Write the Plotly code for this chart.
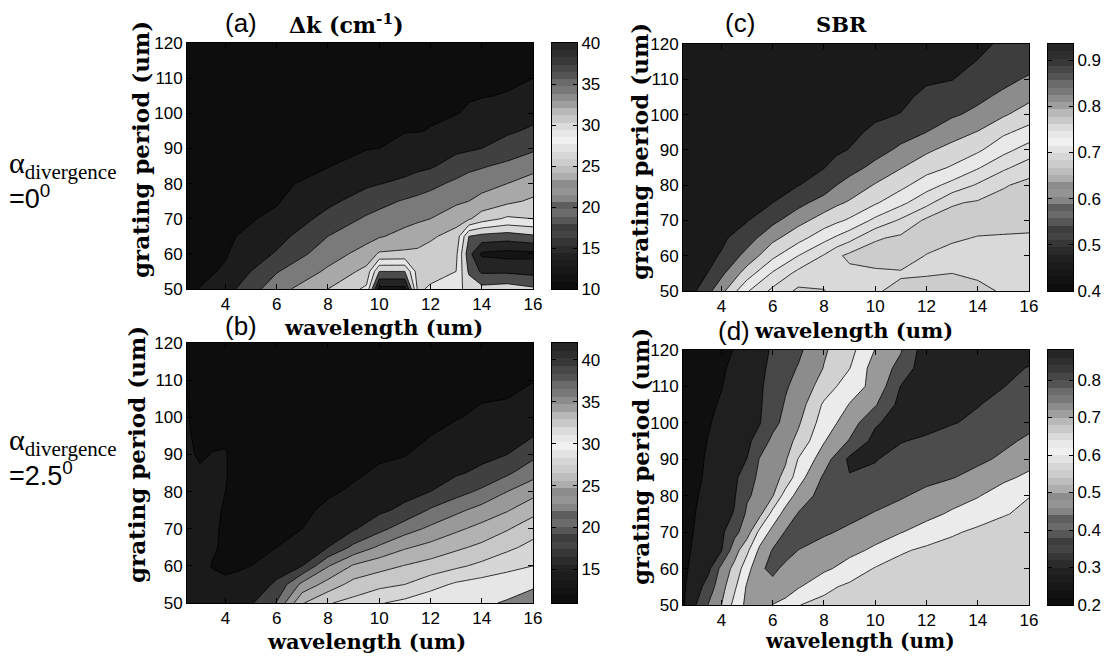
import plotly.graph_objects as go

# screen is 1109x661; the page body has an 8px margin, so the figure is drawn
# 16px smaller and every screen position is shifted by that margin.
SCREEN_W, SCREEN_H = 1109, 661
OFF = 8
W, H = SCREEN_W - 2 * OFF, SCREEN_H - 2 * OFF

# ---------------- data ----------------
Y_PERIOD = [50, 55, 60, 65, 70, 75, 80, 85, 90, 95, 100, 105, 110, 115, 120]

# (a) delta-k, alpha = 0 deg ; one list per wavelength column (values along Y_PERIOD)
X_A = [2.5, 4, 6, 8, 9.5, 10, 11, 11.5, 12, 13, 13.5, 14, 15, 16]
A_COLS = [
    [11.3, 11.0, 10.7, 10.4, 10.2, 10.1, 10.0, 10.0, 10.0, 10.0, 10.0, 10.0, 10.0, 10.0, 10.0],
    [13.8, 12.3, 11.8, 11.5, 11.2, 10.9, 10.6, 10.3, 10.1, 10.0, 10.0, 10.0, 10.0, 10.0, 10.0],
    [19.8, 17.8, 15.3, 13.9, 12.5, 11.8, 11.5, 11.2, 10.9, 10.6, 10.3, 10.1, 10.0, 10.0, 10.0],
    [24.0, 21.5, 19.7, 18.0, 16.0, 14.3, 12.9, 11.9, 11.6, 11.3, 11.0, 10.7, 10.4, 10.2, 10.0],
    [27.6, 24.9, 22.1, 20.1, 18.4, 16.4, 14.5, 13.0, 11.9, 11.6, 11.3, 11.0, 10.7, 10.4, 10.2],
    [40.0, 33.0, 24.4, 20.7, 19.0, 17.1, 14.9, 13.4, 12.0, 11.7, 11.4, 11.1, 10.8, 10.5, 10.3],
    [40.0, 33.0, 24.6, 22.0, 20.0, 18.3, 15.6, 14.0, 12.7, 11.9, 11.6, 11.3, 11.0, 10.7, 10.4],
    [26.5, 25.6, 24.6, 22.7, 20.5, 18.8, 16.4, 14.3, 13.1, 11.9, 11.6, 11.3, 11.0, 10.7, 10.5],
    [27.4, 26.0, 25.0, 23.6, 21.0, 19.2, 17.2, 14.6, 13.4, 12.1, 11.7, 11.4, 11.1, 10.8, 10.5],
    [29.0, 27.0, 26.3, 25.0, 23.0, 20.4, 18.6, 16.4, 14.3, 13.1, 11.9, 11.6, 11.3, 11.0, 10.7],
    [31.0, 33.5, 35.0, 33.0, 23.6, 21.0, 19.6, 17.1, 14.6, 13.5, 12.3, 11.8, 11.5, 11.2, 10.9],
    [32.0, 36.5, 39.5, 34.0, 25.5, 22.0, 19.8, 17.7, 15.0, 13.8, 12.7, 11.9, 11.6, 11.3, 11.0],
    [31.5, 36.5, 40.0, 34.5, 27.5, 23.3, 21.0, 18.7, 16.2, 14.6, 13.3, 12.1, 11.7, 11.4, 11.1],
    [32.5, 37.0, 39.8, 33.5, 27.0, 24.5, 22.3, 20.0, 17.5, 15.4, 14.2, 13.1, 12.0, 11.7, 11.4],
]

# (b) delta-k, alpha = 2.5 deg
X_B = [2.5, 3, 3.5, 4, 4.5, 5, 6, 7, 8, 9, 10, 11, 12, 13, 14, 15, 16]
B_COLS = [
    [14.0, 14.0, 13.8, 13.6, 13.5, 13.4, 13.4, 13.3, 13.3, 13.2, 13.1, 13.05, 12.8, 12.5, 12.3],
    [14.2, 14.0, 13.6, 13.5, 13.4, 13.3, 13.3, 13.2, 12.8, 12.6, 12.5, 12.4, 12.3, 12.2, 12.1],
    [14.3, 13.5, 12.9, 13.2, 13.2, 13.2, 13.2, 13.2, 13.05, 12.7, 12.5, 12.4, 12.3, 12.2, 12.1],
    [14.5, 13.2, 12.8, 12.7, 12.8, 12.9, 13.0, 13.15, 13.1, 12.8, 12.6, 12.5, 12.4, 12.3, 12.2],
    [14.8, 13.5, 12.8, 12.6, 12.5, 12.4, 12.3, 12.2, 12.2, 12.1, 12.1, 12.0, 12.0, 11.9, 11.9],
    [15.2, 14.1, 13.0, 12.6, 12.4, 12.3, 12.2, 12.1, 12.0, 12.0, 11.9, 11.9, 11.8, 11.8, 11.7],
    [18.2, 15.9, 14.4, 13.0, 12.7, 12.5, 12.3, 12.2, 12.1, 12.0, 11.9, 11.8, 11.7, 11.6, 11.5],
    [25.3, 21.2, 15.5, 14.2, 13.0, 12.7, 12.5, 12.3, 12.2, 12.1, 12.0, 11.9, 11.8, 11.7, 11.6],
    [27.8, 24.0, 20.3, 15.5, 14.4, 13.3, 12.8, 12.6, 12.4, 12.3, 12.2, 12.1, 12.0, 11.9, 11.8],
    [28.8, 26.4, 23.3, 18.6, 15.2, 14.2, 13.2, 12.8, 12.6, 12.5, 12.4, 12.3, 12.2, 12.1, 12.0],
    [30.3, 27.3, 24.6, 20.9, 17.2, 15.0, 14.1, 13.2, 12.8, 12.6, 12.5, 12.4, 12.3, 12.2, 12.1],
    [31.2, 28.0, 25.6, 22.7, 19.4, 16.1, 14.7, 13.8, 12.9, 12.7, 12.6, 12.5, 12.4, 12.3, 12.2],
    [32.3, 29.5, 26.5, 23.8, 21.0, 18.3, 15.5, 14.6, 13.8, 13.0, 12.8, 12.7, 12.6, 12.5, 12.4],
    [32.8, 30.9, 27.5, 25.0, 22.5, 19.9, 17.0, 15.2, 14.4, 13.6, 12.9, 12.8, 12.7, 12.6, 12.5],
    [32.5, 31.6, 28.6, 26.1, 23.8, 21.4, 18.5, 16.0, 14.9, 14.1, 13.3, 12.9, 12.8, 12.7, 12.6],
    [33.3, 31.7, 29.9, 27.4, 25.3, 22.8, 20.5, 17.6, 15.5, 14.7, 13.8, 13.0, 12.9, 12.8, 12.7],
    [34.5, 32.5, 30.5, 28.8, 26.9, 24.7, 22.1, 19.6, 17.3, 15.4, 14.4, 13.7, 12.9, 12.8, 12.7],
]

# (c) SBR, alpha = 0 deg
X_C = [2.5, 3, 3.5, 4, 5, 6, 7, 8, 8.5, 9, 10, 11, 12, 13, 14, 15, 16]
C_COLS = [
    [0.909, 0.917, 0.924, 0.930, 0.935, 0.935, 0.935, 0.935, 0.935, 0.935, 0.935, 0.935, 0.935, 0.935, 0.935],
    [0.901, 0.908, 0.916, 0.923, 0.930, 0.935, 0.935, 0.935, 0.935, 0.935, 0.935, 0.935, 0.935, 0.935, 0.935],
    [0.869, 0.899, 0.907, 0.915, 0.922, 0.930, 0.935, 0.935, 0.935, 0.935, 0.935, 0.935, 0.935, 0.935, 0.935],
    [0.833, 0.869, 0.897, 0.907, 0.914, 0.922, 0.929, 0.935, 0.935, 0.935, 0.935, 0.935, 0.935, 0.935, 0.935],
    [0.744, 0.801, 0.846, 0.879, 0.902, 0.909, 0.917, 0.924, 0.930, 0.935, 0.935, 0.935, 0.935, 0.935, 0.935],
    [0.690, 0.735, 0.790, 0.830, 0.871, 0.900, 0.908, 0.915, 0.923, 0.930, 0.935, 0.935, 0.935, 0.935, 0.935],
    [0.652, 0.688, 0.740, 0.795, 0.833, 0.873, 0.901, 0.909, 0.916, 0.924, 0.931, 0.935, 0.935, 0.935, 0.935],
    [0.658, 0.680, 0.697, 0.753, 0.803, 0.841, 0.885, 0.901, 0.909, 0.916, 0.924, 0.931, 0.935, 0.935, 0.935],
    [0.672, 0.675, 0.668, 0.733, 0.788, 0.827, 0.860, 0.889, 0.905, 0.912, 0.920, 0.927, 0.934, 0.935, 0.935],
    [0.680, 0.672, 0.650, 0.713, 0.774, 0.815, 0.846, 0.874, 0.899, 0.907, 0.915, 0.922, 0.930, 0.935, 0.935],
    [0.665, 0.668, 0.640, 0.665, 0.730, 0.785, 0.817, 0.850, 0.874, 0.894, 0.905, 0.913, 0.920, 0.928, 0.935],
    [0.648, 0.665, 0.637, 0.652, 0.694, 0.750, 0.792, 0.822, 0.853, 0.874, 0.899, 0.907, 0.914, 0.922, 0.929],
    [0.645, 0.663, 0.662, 0.640, 0.652, 0.712, 0.757, 0.797, 0.827, 0.860, 0.876, 0.893, 0.904, 0.912, 0.919],
    [0.645, 0.660, 0.672, 0.655, 0.645, 0.664, 0.727, 0.776, 0.806, 0.838, 0.865, 0.884, 0.901, 0.909, 0.916],
    [0.648, 0.668, 0.675, 0.662, 0.645, 0.655, 0.695, 0.744, 0.787, 0.818, 0.851, 0.868, 0.884, 0.899, 0.907],
    [0.665, 0.672, 0.675, 0.664, 0.645, 0.645, 0.664, 0.708, 0.753, 0.787, 0.825, 0.852, 0.870, 0.884, 0.895],
    [0.668, 0.672, 0.670, 0.665, 0.648, 0.640, 0.648, 0.680, 0.722, 0.766, 0.800, 0.830, 0.855, 0.875, 0.888],
]

# (d) SBR, alpha = 2.5 deg ; one list per grating-period row (values along X_D)
X_D = [2.5, 3, 3.5, 4, 4.5, 5, 5.5, 6, 6.5, 7, 8, 9, 10, 11, 12, 13, 14, 15, 16]
D_ROWS = [
    [0.240, 0.324, 0.405, 0.475, 0.572, 0.645, 0.665, 0.623, 0.600, 0.552, 0.530, 0.520, 0.510, 0.505, 0.500, 0.500, 0.500, 0.500, 0.500],
    [0.240, 0.290, 0.360, 0.447, 0.534, 0.635, 0.670, 0.680, 0.665, 0.632, 0.568, 0.535, 0.520, 0.512, 0.505, 0.500, 0.498, 0.496, 0.495],
    [0.235, 0.273, 0.309, 0.421, 0.497, 0.595, 0.690, 0.715, 0.685, 0.668, 0.640, 0.595, 0.545, 0.520, 0.510, 0.505, 0.500, 0.495, 0.490],
    [0.230, 0.263, 0.292, 0.321, 0.439, 0.534, 0.643, 0.705, 0.725, 0.699, 0.670, 0.645, 0.612, 0.560, 0.535, 0.520, 0.510, 0.505, 0.500],
    [0.225, 0.256, 0.283, 0.310, 0.377, 0.440, 0.573, 0.649, 0.705, 0.730, 0.710, 0.685, 0.655, 0.628, 0.595, 0.560, 0.535, 0.520, 0.510],
    [0.220, 0.251, 0.275, 0.300, 0.329, 0.413, 0.456, 0.578, 0.652, 0.705, 0.740, 0.720, 0.695, 0.670, 0.645, 0.615, 0.585, 0.555, 0.535],
    [0.215, 0.245, 0.270, 0.290, 0.318, 0.391, 0.420, 0.470, 0.585, 0.650, 0.735, 0.755, 0.730, 0.708, 0.680, 0.655, 0.630, 0.590, 0.552],
    [0.210, 0.235, 0.265, 0.288, 0.310, 0.363, 0.418, 0.450, 0.494, 0.593, 0.712, 0.770, 0.762, 0.745, 0.720, 0.703, 0.680, 0.640, 0.610],
    [0.205, 0.232, 0.260, 0.285, 0.304, 0.326, 0.406, 0.435, 0.466, 0.554, 0.665, 0.790, 0.778, 0.755, 0.740, 0.725, 0.712, 0.690, 0.652],
    [0.200, 0.230, 0.253, 0.275, 0.292, 0.311, 0.354, 0.420, 0.447, 0.495, 0.620, 0.706, 0.800, 0.778, 0.765, 0.750, 0.735, 0.712, 0.690],
    [0.200, 0.225, 0.246, 0.265, 0.285, 0.303, 0.322, 0.374, 0.425, 0.465, 0.587, 0.662, 0.765, 0.810, 0.795, 0.778, 0.765, 0.745, 0.715],
    [0.200, 0.220, 0.240, 0.256, 0.278, 0.298, 0.318, 0.361, 0.407, 0.438, 0.562, 0.628, 0.693, 0.800, 0.815, 0.800, 0.777, 0.762, 0.740],
    [0.200, 0.215, 0.232, 0.248, 0.270, 0.293, 0.316, 0.350, 0.392, 0.425, 0.507, 0.594, 0.645, 0.778, 0.825, 0.810, 0.795, 0.776, 0.760],
    [0.200, 0.212, 0.227, 0.242, 0.263, 0.288, 0.312, 0.340, 0.376, 0.405, 0.478, 0.548, 0.660, 0.720, 0.830, 0.825, 0.810, 0.790, 0.772],
    [0.200, 0.210, 0.222, 0.236, 0.252, 0.280, 0.307, 0.332, 0.360, 0.385, 0.466, 0.525, 0.628, 0.695, 0.820, 0.840, 0.835, 0.820, 0.800],
]

# contour levels (start, size, end) per panel
LEV_A = (12, 3, 39.01)
LEV_B = (13, 2.5, 33.01)
LEV_C = (0.62, 0.04, 0.9001)
LEV_D = (0.25, 0.075, 0.7751)

# colour-bar ranges and ticks
CB_A = (10, 40, [10, 15, 20, 25, 30, 35, 40])
CB_B = (11.0, 42.0, [15, 20, 25, 30, 35, 40])
CB_C = (0.40, 0.935, [0.4, 0.5, 0.6, 0.7, 0.8, 0.9])
CB_D = (0.20, 0.88, [0.2, 0.3, 0.4, 0.5, 0.6, 0.7, 0.8])

X_TICKS = [4, 6, 8, 10, 12, 14, 16]
Y_TICKS = [50, 60, 70, 80, 90, 100, 110, 120]

# ---------------- styles ----------------
BAND_A = [0.05, 0.11, 0.25, 0.48, 0.66, 0.80, 0.90, 0.84, 0.30, 0.14, 0.08]
BAND_B = [0.05, 0.10, 0.25, 0.45, 0.60, 0.70, 0.78, 0.84, 0.90, 0.50]
BAND_C = [0.72, 0.80, 0.85, 0.87, 0.91, 0.84, 0.55, 0.24, 0.10]
BAND_D = [0.06, 0.12, 0.28, 0.55, 0.82, 0.92, 0.60, 0.30, 0.13]
CBAR_GRAYS = [0.05, 0.07, 0.09, 0.11, 0.13, 0.17, 0.21, 0.27, 0.24, 0.34, 0.42, 0.37,
              0.52, 0.58, 0.55, 0.68, 0.74, 0.80, 0.84, 0.89, 0.94, 0.91, 0.86, 0.79,
              0.72, 0.62, 0.55, 0.47, 0.42, 0.33, 0.28, 0.22, 0.18, 0.15]

SANS = "Liberation Sans, Arial, sans-serif"
SERIF = "DejaVu Serif, serif"
SERIF_R = "Liberation Serif, Times New Roman, serif"


def gray(g):
    v = int(round(g * 255))
    return f"rgb({v},{v},{v})"


def band_scale(grays):
    n = len(grays) - 1
    return [[k / n, gray(g)] for k, g in enumerate(grays)]


def cols_to_rows(cols):
    return [list(r) for r in zip(*cols)]


def px_x(p):
    return (p - OFF) / W


def px_y(p):
    return 1 - (p - OFF) / H


fig = go.Figure()


def add_contour(x, z, lev, grays, n):
    start, size, end = lev
    fig.add_trace(go.Contour(
        x=x, y=Y_PERIOD, z=z, autocontour=False,
        contours=dict(start=start, end=end, size=size, coloring="fill", showlines=True),
        line=dict(color="black", width=0.8, smoothing=0),
        colorscale=band_scale(grays), showscale=False, hoverinfo="skip",
        xaxis=f"x{n}", yaxis=f"y{n}"))


def add_cbar(cb, n):
    cmin, cmax, _ = cb
    k = len(CBAR_GRAYS)
    step = (cmax - cmin) / k
    yc = [cmin + (i + 0.5) * step for i in range(k)]
    fig.add_trace(go.Heatmap(
        x=[0], y=yc, z=[[i] for i in range(k)], zmin=0, zmax=k - 1,
        colorscale=band_scale(CBAR_GRAYS), showscale=False, hoverinfo="skip",
        xaxis=f"x{n}", yaxis=f"y{n}"))


add_contour(X_A, cols_to_rows(A_COLS), LEV_A, BAND_A, 1)
add_contour(X_C, cols_to_rows(C_COLS), LEV_C, BAND_C, 2)
add_contour(X_B, cols_to_rows(B_COLS), LEV_B, BAND_B, 3)
add_contour(X_D, D_ROWS, LEV_D, BAND_D, 4)
add_cbar(CB_A, 5)
add_cbar(CB_C, 6)
add_cbar(CB_B, 7)
add_cbar(CB_D, 8)

# panel boxes in screen pixels: (left, right, top, bottom)
PANELS = {1: (187, 533, 43, 289), 2: (683, 1029, 44, 291),
          3: (187, 533, 343, 603), 4: (683, 1029, 350, 605)}
CBARS = {5: (552, 577, 43, 289, CB_A), 6: (1048, 1073, 44, 291, CB_C),
         7: (552, 577, 343, 603, CB_B), 8: (1048, 1073, 350, 605, CB_D)}

tickfont = dict(family=SANS, size=17, color="black")
layout = dict(width=W, height=H, template="none",
              margin=dict(l=0, r=0, t=0, b=0, pad=0, autoexpand=False),
              paper_bgcolor="white", plot_bgcolor="white", showlegend=False)

for n, (l, r, t, b) in PANELS.items():
    layout[f"xaxis{n}"] = dict(domain=[px_x(l), px_x(r)], anchor=f"y{n}", range=[2.5, 16],
                               tickvals=X_TICKS, ticks="inside", ticklen=5, tickcolor="black",
                               showline=True, linecolor="black", linewidth=1, mirror="ticks",
                               showgrid=False, zeroline=False, tickfont=tickfont,
                               automargin=False)
    layout[f"yaxis{n}"] = dict(domain=[px_y(b), px_y(t)], anchor=f"x{n}", range=[50, 120],
                               tickvals=Y_TICKS, ticks="inside", ticklen=5, tickcolor="black",
                               showline=True, linecolor="black", linewidth=1, mirror="ticks",
                               showgrid=False, zeroline=False, tickfont=tickfont,
                               automargin=False)

for n, (l, r, t, b, cb) in CBARS.items():
    cmin, cmax, ticks = cb
    layout[f"xaxis{n}"] = dict(domain=[px_x(l), px_x(r)], anchor=f"y{n}", range=[-0.5, 0.5],
                               showticklabels=False, ticks="", showline=True, linecolor="black",
                               linewidth=1, mirror=True, showgrid=False, zeroline=False,
                               automargin=False)
    layout[f"yaxis{n}"] = dict(domain=[px_y(b), px_y(t)], anchor=f"x{n}", range=[cmin, cmax],
                               side="right", tickvals=ticks, ticks="inside", ticklen=4,
                               tickcolor="black", showline=True, linecolor="black", linewidth=1,
                               mirror="ticks", showgrid=False, zeroline=False, tickfont=tickfont,
                               automargin=False)

fig.update_layout(**layout)


def ann(text, x, y, size, family, angle=0, xanchor="center", yanchor="middle"):
    fig.add_annotation(text=text, x=px_x(x), y=px_y(y), xref="paper", yref="paper",
                       showarrow=False, textangle=angle, xanchor=xanchor, yanchor=yanchor,
                       font=dict(family=family, size=size, color="black"))


# panel letters and titles
ann("(a)", 241, 23, 26, SANS)
ann("<b>Δk (cm<sup>-1</sup>)</b>", 347, 24, 22, SERIF)
ann("(c)", 740, 23, 26, SANS)
ann("<b>SBR</b>", 841, 24, 21, SERIF)
ann("(b)", 241, 326, 26, SANS)
ann("<b>wavelength (um)</b>", 383, 327, 21, SERIF)
ann("(d)", 734, 331, 26, SANS)
ann("<b>wavelength (um)</b>", 853, 330, 21, SERIF)
ann("<b>wavelength (um)</b>", 367, 641, 21, SERIF)
ann("<b>wavelength (um)</b>", 860, 641, 20, SERIF)
# y-axis titles
ann("<b>grating period (um)</b>", 141, 150, 23, SERIF, angle=-90)
ann("<b>grating period (um)</b>", 136, 455, 23, SERIF, angle=-90)
ann("<b>grating period (um)</b>", 639, 152, 23, SERIF, angle=-90)
ann("<b>grating period (um)</b>", 641, 457, 23, SERIF, angle=-90)
# row labels
ann("α<sub>divergence</sub>", 7, 165, 30, SERIF_R, xanchor="left")
ann("=0<sup>0</sup>", 7, 197, 27, SANS, xanchor="left")
ann("α<sub>divergence</sub>", 7, 442, 30, SERIF_R, xanchor="left")
ann("=2.5<sup>0</sup>", 7, 474, 27, SANS, xanchor="left")

fig.write_html("out.html")
